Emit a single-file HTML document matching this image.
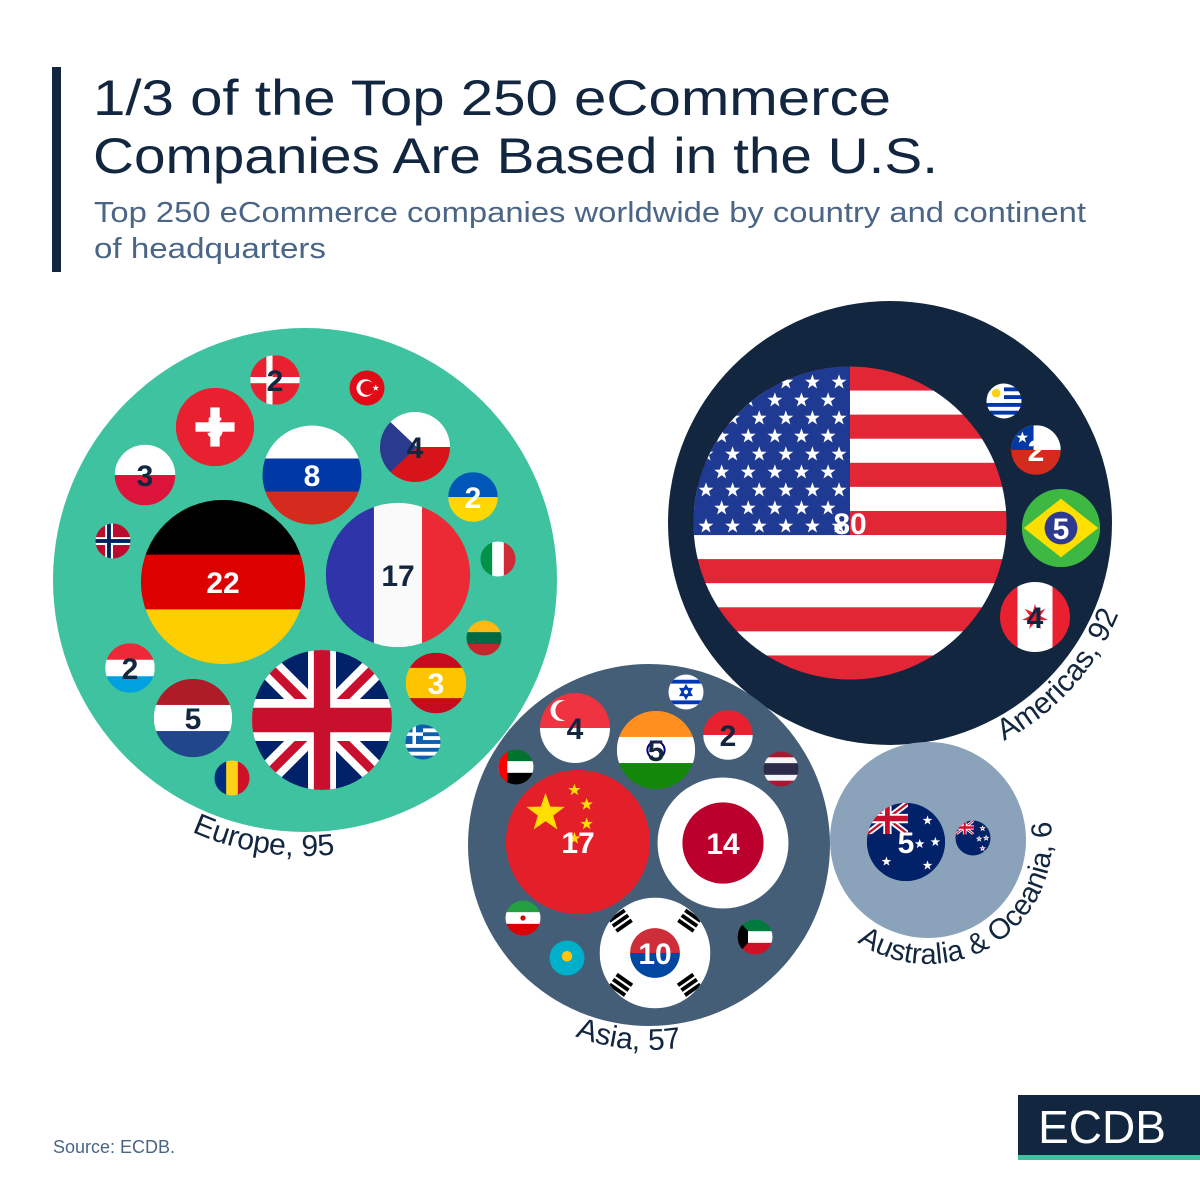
<!DOCTYPE html>
<html><head><meta charset="utf-8"><style>
html,body{margin:0;padding:0;background:#fff}
svg{display:block}
text{font-family:"Liberation Sans",sans-serif}
</style></head><body>
<svg id="chart" width="1200" height="1200" viewBox="0 0 1200 1200" xmlns="http://www.w3.org/2000/svg">
<rect x="52" y="67" width="9" height="205" fill="#12263f"/>
<text x="93" y="115" font-size="50" fill="#12263f" textLength="798" lengthAdjust="spacingAndGlyphs">1/3 of the Top 250 eCommerce</text>
<text x="93" y="173" font-size="50" fill="#12263f" textLength="845" lengthAdjust="spacingAndGlyphs">Companies Are Based in the U.S.</text>
<text x="94" y="222" font-size="29" fill="#4a6585" textLength="992" lengthAdjust="spacingAndGlyphs">Top 250 eCommerce companies worldwide by country and continent</text>
<text x="94" y="258" font-size="29" fill="#4a6585" textLength="232" lengthAdjust="spacingAndGlyphs">of headquarters</text>
<g id="plot"></g>
<text x="53" y="1153" font-size="18" fill="#4a6585">Source: ECDB.</text>
<g>
<rect x="1018" y="1095" width="182" height="60" fill="#12263f"/>
<rect x="1018" y="1155" width="182" height="5" fill="#3ec29f"/>
<text x="1102" y="1143" font-size="46" fill="#fff" text-anchor="middle">ECDB</text>
</g>
</svg>
<script>
// ---- data ----
const continents = ['Europe','Americas','Asia','Australia & Oceania'];
const continentTotals = [95, 92, 57, 6];
const countries = ['de','fr','gb','ru','ch','pl','nl','cz','dk','tr','ua','no','it','lt','es','lu','gr','ro','us','uy','cl','br','ca','sg','il','in','id','ae','th','cn','jp','kr','ir','kw','kz','au','nz'];
const countryValues = [22,17,16,8,5,3,5,4,2,1,2,1,1,1,3,2,1,1,80,1,2,5,4,4,1,5,2,1,1,17,14,10,1,1,1,5,1];
const countryContinent = [0,0,0,0,0,0,0,0,0,0,0,0,0,0,0,0,0,0,1,1,1,1,1,2,2,2,2,2,2,2,2,2,2,2,2,3,3];
// ---- layout (pack positions, not data) ----
const contLayout = [{cx:305,cy:580,r:252,fill:'#3ec29f',ang:99},{cx:890,cy:523,r:222,fill:'#12263f',ang:42},{cx:649,cy:845,r:181,fill:'#445e78',ang:96},{cx:928,cy:840,r:98,fill:'#8aa3bb',ang:58}];
const posLayout = {de:[223,582],fr:[398,575],gb:[322,720],ru:[312,475],ch:[215,427],pl:[145,475],nl:[193,718],cz:[415,447],dk:[275,380],tr:[367,388],ua:[473,497],no:[113,541],it:[498,559],lt:[484,638],es:[436,683],lu:[130,668],gr:[423,742],ro:[232,778],us:[850,523],uy:[1004,401],cl:[1036,450],br:[1061,528],ca:[1035,617],sg:[575,728],il:[686,692],in:[656,750],id:[728,735],ae:[516,767],th:[781,769],cn:[578,842],jp:[723,843],kr:[655,953],ir:[523,918],kw:[755,937],kz:[567,958],au:[906,842],nz:[973,838]};
const darkLabel = {fr:1,pl:1,nl:1,cz:1,dk:1,lu:1,ca:1,sg:1,in:1,id:1};
const noLabel = {gb:1};
const rScale = v => 17.5*Math.sqrt(v);

const NS='http://www.w3.org/2000/svg';
const plot=document.getElementById('plot');
function mk(tag,attrs,parent){const e=document.createElementNS(NS,tag);for(const k in attrs)e.setAttribute(k,attrs[k]);(parent||plot).appendChild(e);return e;}
function starPts(cx,cy,R,n){n=n||5;let p=[];for(let i=0;i<2*n;i++){const rr=i%2?R*0.4:R;const a=-Math.PI/2+i*Math.PI/n;p.push((cx+rr*Math.cos(a)).toFixed(2)+','+(cy+rr*Math.sin(a)).toFixed(2));}return p.join(' ');}
function hs(g,r,cols,w){w=w||cols.map(()=>1);const t=w.reduce((a,b)=>a+b,0);let y=-r;cols.forEach((c,i)=>{const h=2*r*w[i]/t;mk('rect',{x:-r,y:y,width:2*r,height:h+0.5,fill:c},g);y+=h;});}
function vs(g,r,cols,w){w=w||cols.map(()=>1);const t=w.reduce((a,b)=>a+b,0);let x=-r;cols.forEach((c,i)=>{const ww=2*r*w[i]/t;mk('rect',{x:x,y:-r,width:ww+0.5,height:2*r,fill:c},g);x+=ww;});}
function uj(g,x,y,w,h){const s=mk('svg',{x:x,y:y,width:w,height:h,viewBox:'0 0 60 40',preserveAspectRatio:'none'},g);
 mk('rect',{x:0,y:0,width:60,height:40,fill:'#012169'},s);
 mk('path',{d:'M0,0L60,40M60,0L0,40',stroke:'#fff','stroke-width':8},s);
 mk('path',{d:'M0,0L60,40M60,0L0,40',stroke:'#c8102e','stroke-width':3},s);
 mk('path',{d:'M30,0V40M0,20H60',stroke:'#fff','stroke-width':12},s);
 mk('path',{d:'M30,0V40M0,20H60',stroke:'#c8102e','stroke-width':7},s);}
function drawFlag(g,c,r){
 switch(c){
 case 'de':hs(g,r,['#000','#dd0000','#ffce00']);break;
 case 'fr':vs(g,r,['#2f35a8','#fafafa','#ec2a35']);break;
 case 'ru':hs(g,r,['#fff','#0039a6','#d52b1e']);break;
 case 'pl':hs(g,r,['#fff','#dc143c']);break;
 case 'nl':hs(g,r,['#ae1c28','#fff','#21468b']);break;
 case 'lu':hs(g,r,['#ed2939','#fff','#00a1de']);break;
 case 'ua':hs(g,r,['#0057b7','#ffd700']);break;
 case 'lt':hs(g,r,['#fdb913','#006a44','#c1272d']);break;
 case 'it':vs(g,r,['#009246','#fff','#ce2b37']);break;
 case 'ro':vs(g,r,['#002b7f','#fcd116','#ce1126']);break;
 case 'es':hs(g,r,['#c60b1e','#ffc400','#c60b1e'],[1,2,1]);break;
 case 'ch':mk('rect',{x:-r,y:-r,width:2*r,height:2*r,fill:'#e8202f'},g);mk('rect',{x:-r*0.12,y:-r*0.5,width:r*0.24,height:r,fill:'#fff'},g);mk('rect',{x:-r*0.5,y:-r*0.12,width:r,height:r*0.24,fill:'#fff'},g);break;
 case 'dk':mk('rect',{x:-r,y:-r,width:2*r,height:2*r,fill:'#e8202f'},g);mk('rect',{x:-r*0.35,y:-r,width:r*0.25,height:2*r,fill:'#fff'},g);mk('rect',{x:-r,y:-r*0.12,width:2*r,height:r*0.25,fill:'#fff'},g);break;
 case 'no':mk('rect',{x:-r,y:-r,width:2*r,height:2*r,fill:'#ba0c2f'},g);mk('rect',{x:-r*0.45,y:-r,width:r*0.45,height:2*r,fill:'#fff'},g);mk('rect',{x:-r,y:-r*0.22,width:2*r,height:r*0.45,fill:'#fff'},g);mk('rect',{x:-r*0.34,y:-r,width:r*0.22,height:2*r,fill:'#00205b'},g);mk('rect',{x:-r,y:-r*0.11,width:2*r,height:r*0.22,fill:'#00205b'},g);break;
 case 'tr':mk('rect',{x:-r,y:-r,width:2*r,height:2*r,fill:'#e30a17'},g);mk('circle',{cx:-r*0.1,cy:0,r:r*0.5,fill:'#fff'},g);mk('circle',{cx:r*0.02,cy:0,r:r*0.4,fill:'#e30a17'},g);mk('polygon',{points:starPts(r*0.5,0,r*0.2)},g).setAttribute('fill','#fff');break;
 case 'cz':hs(g,r,['#fff','#d7141a']);mk('polygon',{points:`${-r},${-r} ${r*0.05},0 ${-r},${r}`,fill:'#2a3a8f'},g);break;
 case 'gr':for(let i=0;i<9;i++)mk('rect',{x:-r,y:-r+i*2*r/9,width:2*r,height:2*r/9+0.3,fill:i%2?'#fff':'#0d5eaf'},g);mk('rect',{x:-r,y:-r,width:r,height:r*10/9,fill:'#0d5eaf'},g);mk('rect',{x:-r*0.6,y:-r,width:r*0.2,height:r*10/9,fill:'#fff'},g);mk('rect',{x:-r,y:-r*0.55,width:r,height:r*0.2,fill:'#fff'},g);break;
 case 'gb':uj(g,-r,-r,2*r,2*r);break;
 case 'us':{for(let i=0;i<13;i++)mk('rect',{x:-r,y:-r+i*2*r/13,width:2*r,height:2*r/13+0.3,fill:i%2?'#fff':'#e32636'},g);
   mk('rect',{x:-r,y:-r,width:r,height:r*14/13,fill:'#1f3a93'},g);
   for(let row=0;row<9;row++){const n=row%2?5:6;for(let k=0;k<n;k++){const sx=-r+r*(row%2?0.18:0.08)+k*r*0.17;const sy=-r+r*0.1+row*r*0.115;mk('polygon',{points:starPts(sx,sy,r*0.05),fill:'#fff'},g);}}break;}
 case 'uy':for(let i=0;i<9;i++)mk('rect',{x:-r,y:-r+i*2*r/9,width:2*r,height:2*r/9+0.3,fill:i%2?'#0038a8':'#fff'},g);mk('rect',{x:-r,y:-r,width:r,height:r*10/9,fill:'#fff'},g);mk('circle',{cx:-r*0.45,cy:-r*0.45,r:r*0.25,fill:'#fcd116'},g);break;
 case 'cl':hs(g,r,['#fff','#d52b1e']);mk('rect',{x:-r,y:-r,width:r*0.9,height:r,fill:'#0039a6'},g);mk('polygon',{points:starPts(-r*0.55,-r*0.5,r*0.25),fill:'#fff'},g);break;
 case 'br':mk('rect',{x:-r,y:-r,width:2*r,height:2*r,fill:'#3db843'},g);mk('polygon',{points:`0,${-r*0.75} ${r*0.95},0 0,${r*0.75} ${-r*0.95},0`,fill:'#fedf00'},g);mk('circle',{cx:0,cy:0,r:r*0.42,fill:'#2d3a8f'},g);break;
 case 'ca':vs(g,r,['#e8202f','#fff','#e8202f'],[1,2,1]);mk('polygon',{points:starPts(0,0,r*0.38,7),fill:'#e8202f'},g);break;
 case 'sg':hs(g,r,['#ef3340','#fff']);mk('circle',{cx:-r*0.4,cy:-r*0.5,r:r*0.3,fill:'#fff'},g);mk('circle',{cx:-r*0.28,cy:-r*0.5,r:r*0.28,fill:'#ef3340'},g);break;
 case 'il':mk('rect',{x:-r,y:-r,width:2*r,height:2*r,fill:'#fff'},g);mk('rect',{x:-r,y:-r*0.7,width:2*r,height:r*0.22,fill:'#0038b8'},g);mk('rect',{x:-r,y:r*0.48,width:2*r,height:r*0.22,fill:'#0038b8'},g);mk('polygon',{points:`0,${-r*0.35} ${r*0.3},${r*0.18} ${-r*0.3},${r*0.18}`,fill:'none',stroke:'#0038b8','stroke-width':2},g);mk('polygon',{points:`0,${r*0.35} ${r*0.3},${-r*0.18} ${-r*0.3},${-r*0.18}`,fill:'none',stroke:'#0038b8','stroke-width':2},g);break;
 case 'in':hs(g,r,['#ff8f1f','#fff','#138808']);mk('circle',{cx:0,cy:0,r:r*0.22,fill:'none',stroke:'#000080','stroke-width':2},g);break;
 case 'id':hs(g,r,['#e8202f','#fff']);break;
 case 'ae':hs(g,r,['#00732f','#fff','#000']);mk('rect',{x:-r,y:-r,width:r*0.5,height:2*r,fill:'#ff0000'},g);break;
 case 'th':hs(g,r,['#a51931','#f4f5f8','#2d2a4a','#f4f5f8','#a51931'],[1,1,2,1,1]);break;
 case 'cn':mk('rect',{x:-r,y:-r,width:2*r,height:2*r,fill:'#e3202a'},g);mk('polygon',{points:starPts(-r*0.45,-r*0.4,r*0.28),fill:'#ffde00'},g);[[-0.05,-0.72],[0.12,-0.52],[0.12,-0.25],[-0.05,-0.05]].forEach(p=>mk('polygon',{points:starPts(r*p[0],r*p[1],r*0.09),fill:'#ffde00'},g));break;
 case 'jp':mk('rect',{x:-r,y:-r,width:2*r,height:2*r,fill:'#fff'},g);mk('circle',{cx:0,cy:0,r:r*0.62,fill:'#bc002d'},g);break;
 case 'kr':mk('rect',{x:-r,y:-r,width:2*r,height:2*r,fill:'#fff'},g);mk('path',{d:`M${-r*0.45},0A${r*0.45},${r*0.45} 0 0 1 ${r*0.45},0Z`,fill:'#cd2e3a'},g);mk('path',{d:`M${-r*0.45},0A${r*0.45},${r*0.45} 0 0 0 ${r*0.45},0Z`,fill:'#0047a0'},g);
   [[-1,-1],[1,-1],[-1,1],[1,1]].forEach(d=>{const tg=mk('g',{transform:`translate(${d[0]*r*0.62},${d[1]*r*0.58}) rotate(${d[0]*d[1]*-35})`},g);for(let i=0;i<3;i++)mk('rect',{x:-r*0.17,y:-r*0.15+i*r*0.11,width:r*0.34,height:r*0.07,fill:'#000'},tg);});break;
 case 'ir':hs(g,r,['#239f40','#fff','#da0000']);mk('circle',{cx:0,cy:0,r:r*0.15,fill:'#da0000'},g);break;
 case 'kw':hs(g,r,['#007a3d','#fff','#ce1126']);mk('polygon',{points:`${-r},${-r} ${-r*0.4},${-r/3} ${-r*0.4},${r/3} ${-r},${r}`,fill:'#000'},g);break;
 case 'kz':mk('rect',{x:-r,y:-r,width:2*r,height:2*r,fill:'#00afca'},g);mk('circle',{cx:0,cy:-r*0.1,r:r*0.3,fill:'#fec50c'},g);break;
 case 'au':case 'nz':mk('rect',{x:-r,y:-r,width:2*r,height:2*r,fill:'#012169'},g);uj(g,-r,-r,r*1.05,r*0.8);
   const sc=c==='au'?'#fff':'#c8102e';[[0.55,-0.55],[0.35,0.05],[0.75,0],[0.55,0.6],[-0.5,0.5]].forEach((p,i)=>{if(c==='nz'&&i===4)return;mk('polygon',{points:starPts(r*p[0],r*p[1],r*0.13),fill:sc,stroke:'#fff','stroke-width':c==='nz'?0.8:0},g);});break;
 }
}
// continents
contLayout.forEach((L,i)=>{
 const c=mk('circle',{cx:L.cx,cy:L.cy,r:L.r,fill:L.fill});
 
 
 const R=L.r+(i===3?26:24);const a=L.ang*Math.PI/180;
 const a1=a+Math.PI/2,a2=a-Math.PI/2;
 const p=mk('path',{id:'arc'+i,fill:'none',d:`M${L.cx+R*Math.cos(a1)},${L.cy+R*Math.sin(a1)}A${R},${R} 0 0 0 ${L.cx+R*Math.cos(a2)},${L.cy+R*Math.sin(a2)}`});
 const t=mk('text',{'font-size':i===3?29:30,fill:'#12263f','text-anchor':'middle'});
 
 
 const tp=mk('textPath',{href:'#arc'+i,startOffset:'50%'},t);
 tp.textContent=continents[i]+', '+continentTotals[i];
});
// countries
countries.forEach((code,i)=>{
 const [cx,cy]=posLayout[code];const r=rScale(countryValues[i]);
 const g=mk('g',{transform:`translate(${cx},${cy})`});
 
 
 const cp=mk('clipPath',{id:'cp'+code},g);mk('circle',{cx:0,cy:0,r:r},cp);
 const fg=mk('g',{'clip-path':`url(#cp${code})`},g);
 drawFlag(fg,code,r);
 if(countryValues[i]>=2 && !noLabel[code]){
  const t=mk('text',{x:0,y:11,'text-anchor':'middle','font-size':30,'font-weight':'bold',fill:darkLabel[code]?'#12263f':'#fff'},g);
  
  
  t.textContent=countryValues[i];
 }
});
</script>
</body></html>
